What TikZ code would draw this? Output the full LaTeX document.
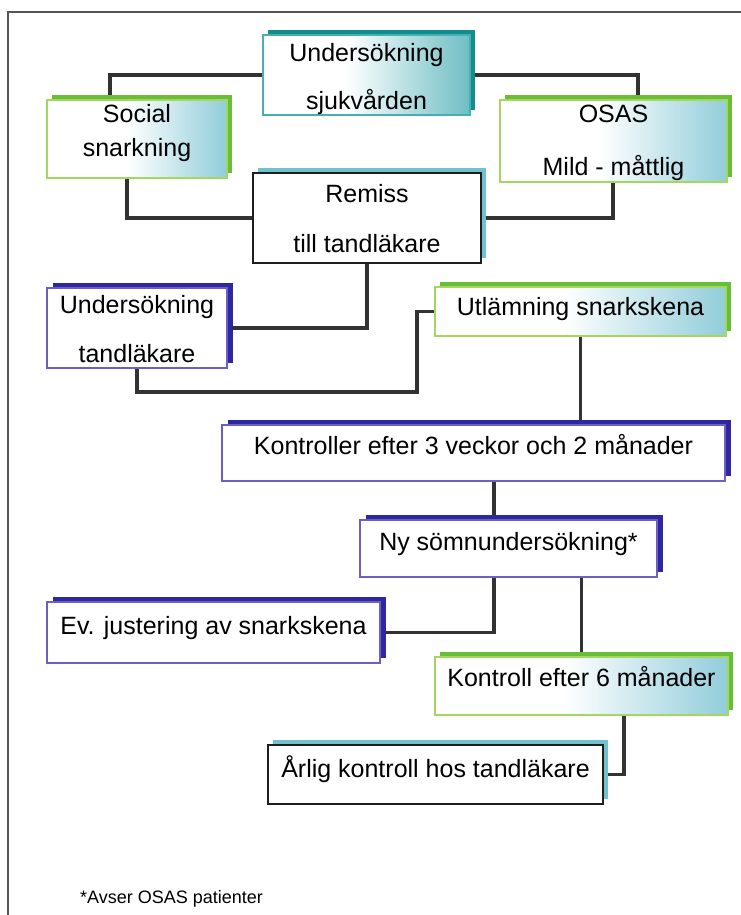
\documentclass[tikz,border=0pt]{standalone}
\usepackage{fontspec}
\setmainfont{Liberation Sans}
\usetikzlibrary{shadows,backgrounds}
\definecolor{conncol}{RGB}{50,50,50}
\definecolor{framecol}{RGB}{85,85,85}
\definecolor{tealshadow}{RGB}{20,140,140}
\definecolor{tealline}{RGB}{70,175,180}
\definecolor{ltealshadow}{RGB}{110,195,205}
\definecolor{greenshadow}{RGB}{105,190,55}
\definecolor{greenline}{RGB}{165,215,95}
\definecolor{navyshadow}{RGB}{45,40,160}
\definecolor{blueline}{RGB}{110,95,200}
\definecolor{darkline}{RGB}{30,30,30}
\definecolor{fadeAc}{RGB}{110,190,195}
\definecolor{fadeBc}{RGB}{145,205,218}
\pgfdeclarehorizontalshading{fadeA}{100bp}{color(0bp)=(white); color(45bp)=(white); color(75bp)=(fadeAc); color(100bp)=(fadeAc)}
\pgfdeclarehorizontalshading{fadeB}{100bp}{color(0bp)=(white); color(47bp)=(white); color(75bp)=(fadeBc); color(100bp)=(fadeBc)}
\newcommand\sv[2]{\rule[-#2pt]{0pt}{\dimexpr#1pt+#2pt\relax}}
\tikzset{
  boxbase/.style={rectangle, inner xsep=4pt, inner ysep=0pt, align=center,
    line width=1.8pt, font=\fontsize{25}{30}\selectfont, text=black},
  tealbox/.style={boxbase, draw=tealline, shade, shading=fadeA,
    general shadow={fill=tealshadow, shadow xshift=5pt, shadow yshift=5pt}},
  greenbox/.style={boxbase, draw=greenline, shade, shading=fadeB,
    general shadow={fill=greenshadow, shadow xshift=5pt, shadow yshift=5pt}},
  bluebox/.style={boxbase, draw=blueline, fill=white,
    general shadow={fill=navyshadow, shadow xshift=6pt, shadow yshift=5pt}},
  darkbox/.style={boxbase, draw=darkline, fill=white,
    general shadow={fill=ltealshadow, shadow xshift=5pt, shadow yshift=5pt}},
  link/.style={draw=conncol, line width=3.2pt},
  framestyle/.style={draw=framecol, line width=1.5pt}
}
\begin{document}
\begin{tikzpicture}[x=1pt,y=-1pt]
\useasboundingbox (0,0) rectangle (741,915);
\draw[framestyle] (741,12) -- (8,12) -- (8,915);

\node[tealbox, minimum width=207pt, minimum height=80pt] (U1) at (366.5,75)
  {\sv{27}{0}Undersökning\\[18pt]sjukvården\sv{0}{5}};
\node[greenbox, minimum width=180pt, minimum height=78pt] (Soc) at (137,139)
  {\sv{22}{0}Social\\[5pt]snarkning\sv{0}{21}};
\node[greenbox, minimum width=227pt, minimum height=82pt] (OSAS) at (613.5,141)
  {\sv{22}{0}OSAS\\[23pt]Mild - måttlig\sv{0}{7}};
\node[darkbox, minimum width=228pt, minimum height=90pt] (Rem) at (367,218)
  {\sv{29}{0}Remiss\\[20pt]till tandläkare\sv{0}{11}};
\node[bluebox, minimum width=180pt, minimum height=80pt] (UT) at (137,328)
  {\sv{25}{0}Undersökning\\[19pt]tandläkare\sv{0}{6}};
\node[greenbox, minimum width=291pt, minimum height=49pt] (Utl) at (580.5,311.5)
  {\sv{28}{21}Utlämning snarkskena};
\node[bluebox, minimum width=503pt, minimum height=56pt] (Kon3) at (473.5,453)
  {\sv{29}{27}Kontroller efter 3 veckor och 2 månader};
\node[bluebox, minimum width=297pt, minimum height=57pt] (Ny) at (508.5,548.5)
  {\sv{30}{27}Ny sömnundersökning*};
\node[bluebox, minimum width=333pt, minimum height=61pt] (Ev) at (213.5,632.5)
  {\sv{32}{29}Ev. justering av snarkskena};
\node[greenbox, minimum width=293pt, minimum height=58pt] (K6) at (581.5,686)
  {\sv{29}{29}Kontroll efter 6 månader};
\node[darkbox, minimum width=335pt, minimum height=59pt] (Arl) at (435.5,774.5)
  {\sv{32}{27}Årlig kontroll hos tandläkare};

\node[anchor=base west, inner sep=0pt, font=\fontsize{18}{22}\selectfont] (fn) at (80,903)
  {*Avser OSAS patienter};

\coordinate (j1) at (417,392);
\begin{pgfonlayer}{background}
\fill[white] (0,0) rectangle (741,915);
\draw[link] (U1.west) -| (110,0 |- Soc.north);
\draw[link] (U1.east) -| (638,0 |- OSAS.north);
\draw[link] (127,0 |- Soc.south) |- (Rem.west);
\draw[link] (613,0 |- OSAS.south) |- (Rem.east);
\draw[link] (Rem.south) |- (UT.east);
\draw[link] (UT.south) |- (j1) |- (Utl.west);
\draw[link] (Utl.south) -- (Utl.south |- Kon3.north);
\draw[link] (494,0 |- Kon3.south) -- (494,0 |- Ny.north);
\draw[link] (494,0 |- Ny.south) |- (Ev.east);
\draw[link] (K6.north |- Ny.south) -- (K6.north);
\draw[link] (624,0 |- K6.south) |- (Arl.east);
\end{pgfonlayer}
\end{tikzpicture}
\end{document}
